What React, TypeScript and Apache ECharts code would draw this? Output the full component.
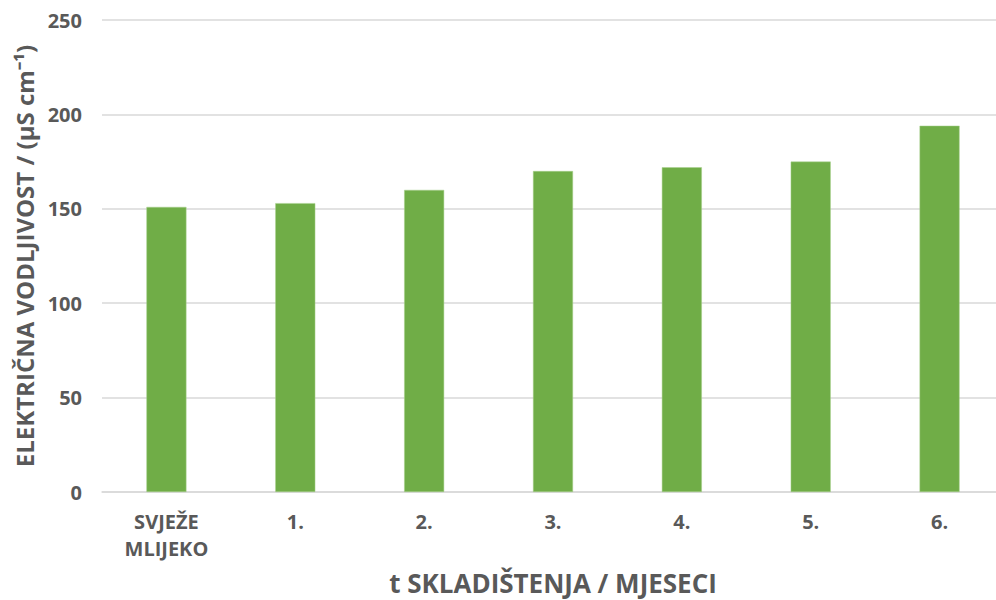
import React, { useEffect, useRef } from "react";
import * as echarts from "echarts";

const categories = ["SVJEŽE\nMLIJEKO", "1.", "2.", "3.", "4.", "5.", "6."];
const conductivity = [151, 153, 160, 170, 172, 175, 194];
const yTicks = { min: 0, max: 250, interval: 50 };

const TEXT = "#595959";
const FONT = "'Open Sans', 'Liberation Sans', sans-serif";

export default function App() {
  const ref = useRef<HTMLDivElement>(null);
  useEffect(() => {
    if (!ref.current) return;
    const chart = echarts.init(ref.current, null, { renderer: "svg" });
    chart.setOption({
      animation: false,
      backgroundColor: "#ffffff",
      grid: {
        left: 102,
        right: -8,
        top: 20,
        bottom: 108,
        containLabel: false,
        outerBoundsMode: "none",
      },
      xAxis: {
        type: "category",
        data: categories,
        name: "t SKLADIŠTENJA / MJESECI",
        nameLocation: "middle",
        nameGap: 78,
        nameTextStyle: { color: TEXT, fontSize: 26, fontWeight: "bold", fontFamily: FONT },
        axisLine: { lineStyle: { color: "#d9d9d9", width: 1.5 } },
        axisTick: { show: false },
        axisLabel: {
          color: TEXT,
          fontSize: 20,
          fontWeight: "bold",
          fontFamily: FONT,
          margin: 16,
          lineHeight: 27,
          interval: 0,
        },
      },
      yAxis: {
        type: "value",
        min: yTicks.min,
        max: yTicks.max,
        interval: yTicks.interval,
        name: "ELEKTRIČNA VODLJIVOST / (µS cm⁻¹)",
        nameLocation: "middle",
        nameGap: 56,
        nameTextStyle: { color: TEXT, fontSize: 24, fontWeight: "bold", fontFamily: FONT },
        axisLine: { show: false },
        axisTick: { show: false },
        splitLine: { lineStyle: { color: "#d9d9d9", width: 1.5 } },
        axisLabel: {
          color: TEXT,
          fontSize: 20,
          fontWeight: "bold",
          fontFamily: FONT,
          margin: 20,
        },
      },
      series: [
        {
          type: "bar",
          data: conductivity,
          barWidth: 40,
          itemStyle: { color: "#70AD47", borderColor: "#A9D18E", borderWidth: 0.5 },
        },
      ],
    });
    return () => chart.dispose();
  }, []);
  return (
    <div
      ref={ref}
      style={{ position: "absolute", left: 0, top: 0, width: 996, height: 600 }}
    />
  );
}
